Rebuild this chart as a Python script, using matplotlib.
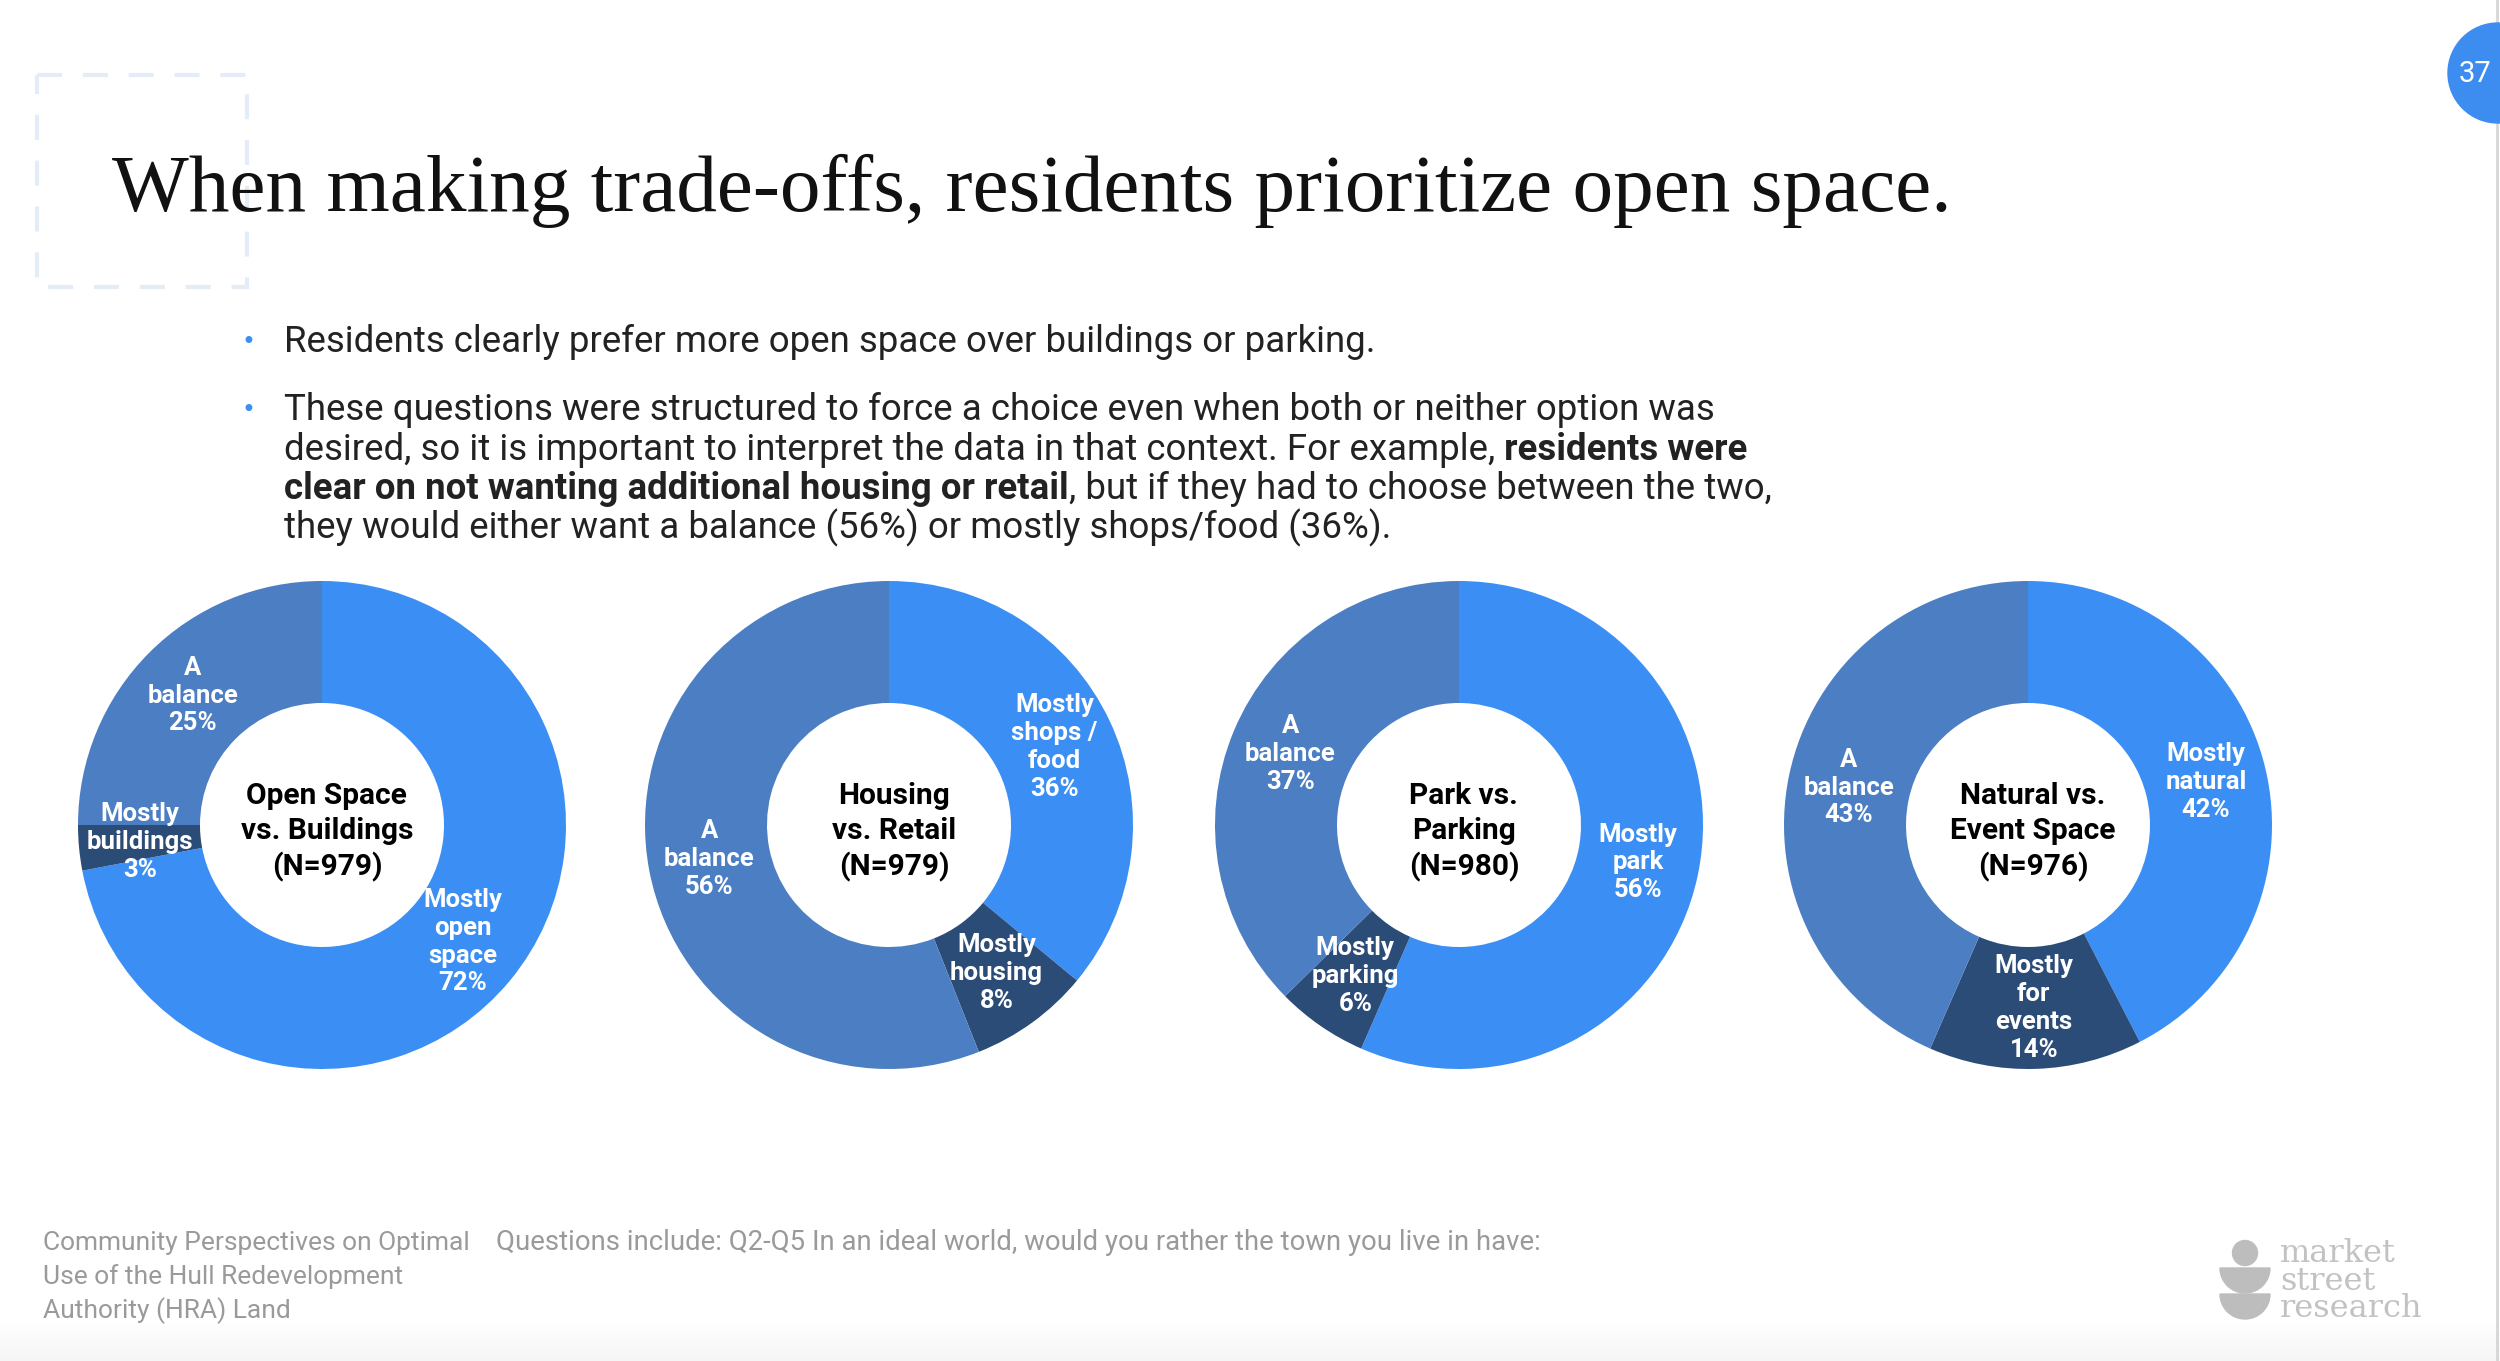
import numpy as np
import matplotlib
matplotlib.use("Agg")
import matplotlib.pyplot as plt
from matplotlib.patches import Circle, Wedge, Rectangle

# %% data
donut_titles = [
    "Open Space\nvs. Buildings\n(N=979)",
    "Housing\nvs. Retail\n(N=979)",
    "Park vs.\nParking\n(N=980)",
    "Natural vs.\nEvent Space\n(N=976)",
]
labels_open = ["Mostly\nopen\nspace", "Mostly\nbuildings", "A\nbalance"]
vals_open = [72, 3, 25]
labels_housing = ["Mostly\nshops /\nfood", "Mostly\nhousing", "A\nbalance"]
vals_housing = [36, 8, 56]
labels_park = ["Mostly\npark", "Mostly\nparking", "A\nbalance"]
vals_park = [56, 6, 37]
labels_event = ["Mostly\nnatural", "Mostly\nfor\nevents", "A\nbalance"]
vals_event = [42, 14, 43]

title = "When making trade-offs, residents prioritize open space."
bullet1 = "Residents clearly prefer more open space over buildings or parking."
bullet2 = [
    [("These questions were structured to force a choice even when both or neither option was", "normal")],
    [("desired, so it is important to interpret the data in that context. For example,", "normal"),
     (" residents were", "bold")],
    [("clear on not wanting additional housing or retail", "bold"),
     (", but if they had to choose between the two,", "normal")],
    [("they would either want a balance (56%) or mostly shops/food (36%).", "normal")],
]
footer_left = ["Community Perspectives on Optimal", "Use of the Hull Redevelopment", "Authority (HRA) Land"]
footer_note = "Questions include: Q2-Q5 In an ideal world, would you rather the town you live in have:"
logo_words = ["market", "street", "research"]
page_no = "37"

# colours
c_bright = "#3b8ff4"
c_mid = "#4b7ec3"
c_dark = "#2c4c78"
slice_colors = [c_bright, c_dark, c_mid]

W, H = 2500, 1361
fig = plt.figure(figsize=(W / 100, H / 100), dpi=100)
fig.patch.set_facecolor("white")

# background axes in pixel coordinates
bg = fig.add_axes([0, 0, 1, 1])
bg.set_xlim(0, W)
bg.set_ylim(H, 0)
bg.axis("off")

# faint bottom band
grad = np.linspace(0, 1, 50).reshape(-1, 1)
bg.imshow(grad, extent=[0, W, H, 1320], cmap="Greys", vmin=0, vmax=12, aspect="auto", zorder=0)
bg.set_xlim(0, W)
bg.set_ylim(H, 0)
bg.plot([2497, 2497], [0, H], color="#d6d6d6", lw=2)

# dashed decoration
bg.add_patch(Rectangle((37, 75), 210, 212, fill=False, edgecolor="#e3ecf7",
                       lw=3, linestyle=(0, (6, 5))))

# page number
bg.add_patch(Circle((2498, 73), 50, color="#3d8df0", zorder=3))
bg.text(2475, 74, page_no, color="white", fontsize=21, family="Roboto",
        ha="center", va="center", zorder=4)

# title
bg.text(112, 211, title, family="Liberation Serif", fontsize=58.5, color="#111111",
        va="baseline", ha="left")

# bullets
body_kw = dict(family="Roboto", fontsize=26.4, color="#222222")
bg.text(248, 349, "•", color="#3b8ff4", fontsize=17, ha="center", va="baseline")
bg.text(284, 352, bullet1, va="baseline", **body_kw)
bg.text(248, 417, "•", color="#3b8ff4", fontsize=17, ha="center", va="baseline")
y = 420
for line in bullet2:
    t = bg.text(284, y, line[0][0], fontweight=line[0][1], va="baseline", **body_kw)
    for seg, wt in line[1:]:
        t = bg.annotate(seg, xy=(1, 0), xycoords=t, va="bottom", ha="left",
                        fontweight=wt, **body_kw)
    y += 39.5

# donuts
centers_x = [322, 889, 1459, 2028]
center_y = 825
radius = 244
all_labels = [labels_open, labels_housing, labels_park, labels_event]
all_vals = [vals_open, vals_housing, vals_park, vals_event]
for cx, ttl, labs, vals in zip(centers_x, donut_titles, all_labels, all_vals):
    ax = fig.add_axes([(cx - radius) / W, 1 - (center_y + radius) / H,
                       2 * radius / W, 2 * radius / H])
    wedges, _ = ax.pie(vals, colors=slice_colors, startangle=90, counterclock=False,
                       radius=1, wedgeprops=dict(width=0.5, edgecolor="none"))
    for w, lab, v in zip(wedges, labs, vals):
        ang = np.deg2rad((w.theta1 + w.theta2) / 2)
        ax.text(0.75 * np.cos(ang), 0.75 * np.sin(ang), f"{lab}\n{v}%",
                ha="center", va="center", color="white", fontsize=18.5,
                fontweight="bold", family="Roboto", linespacing=1.2)
    ax.text(0.02, -0.03, ttl, ha="center", va="center", color="black", fontsize=21.5,
            fontweight="bold", family="Roboto", linespacing=1.3)
    ax.set_xlim(-1, 1)
    ax.set_ylim(-1, 1)
    ax.set_aspect("equal")
    ax.axis("off")

# footer
foot_kw = dict(family="Roboto", color="#9a9a9a", va="baseline")
for i, s in enumerate(footer_left):
    bg.text(43, 1250 + i * 34, s, fontsize=19, **foot_kw)
bg.text(496, 1250, footer_note, fontsize=19.8, **foot_kw)

# logo
logo_c = "#bdbdbd"
bg.add_patch(Circle((2245, 1253), 12.5, color=logo_c))
bg.add_patch(Wedge((2245, 1268), 25, 0, 180, color=logo_c))
bg.add_patch(Wedge((2245, 1294), 25, 0, 180, color=logo_c))
for i, s in enumerate(logo_words):
    bg.text(2280, 1262 + i * 27.5, s, family="DejaVu Serif", fontsize=23,
            color="#c2c2c2", va="baseline", ha="left")

fig.savefig("out.png", dpi=100, facecolor="white")
